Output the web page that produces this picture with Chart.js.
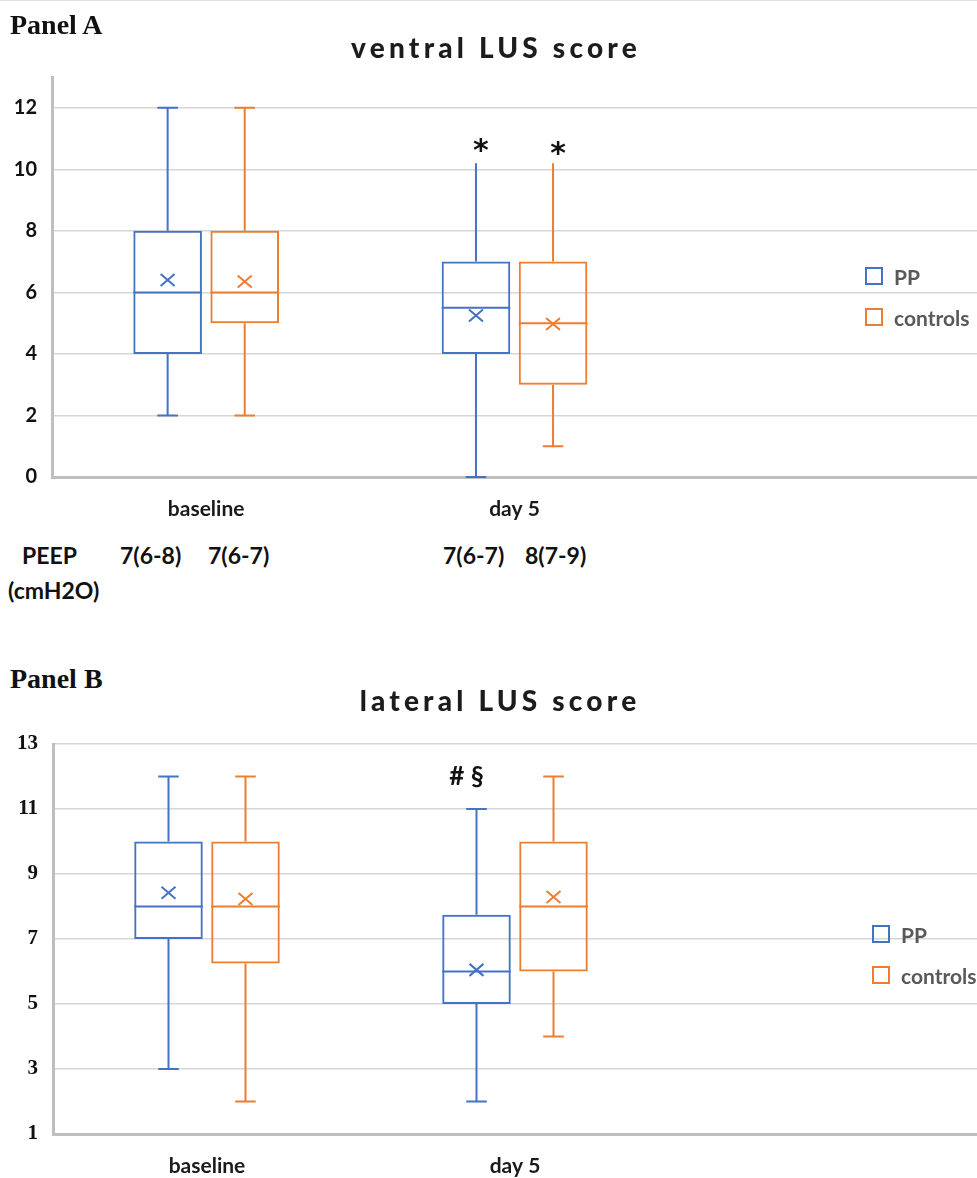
<!DOCTYPE html>
<html>
<head>
<meta charset="utf-8">
<script src="https://cdn.jsdelivr.net/npm/chart.js@4.4.1/dist/chart.umd.min.js"></script>
<style>
  html, body { margin: 0; padding: 0; background: #fff; }
  #page { position: relative; width: 977px; height: 1178px; overflow: hidden; background: #fff; }
  .topline { position: absolute; left: 0; top: 0; width: 977px; height: 1px; background: #e2e2e2; }
  .abs { position: absolute; white-space: nowrap; z-index: 2; }
  .panel { font-family: "Liberation Serif", "Times New Roman", serif; font-weight: bold; font-size: 28px; line-height: 28px; color: #111; }
  .title { font-family: Lato, sans-serif; font-weight: 900; font-size: 28px; line-height: 30px; letter-spacing: 4.2px; color: #1c1c1c; transform: translateX(-50%); }
  .peep { font-family: Lato, sans-serif; font-weight: bold; font-size: 23px; line-height: 24px; color: #111; }
  .legend { position: absolute; z-index: 2; }
  .legend-item { display: flex; align-items: center; height: 18px; margin-bottom: 23px; font-family: Lato, sans-serif; font-weight: bold; font-size: 21px; color: #595959; white-space: nowrap; }
  .swatch { box-sizing: border-box; width: 18px; height: 18px; border: 2px solid; margin-right: 11px; background: transparent; }
  .chartbox { position: absolute; left: 0; width: 977px; z-index: 1; }
</style>
</head>
<body>
<div id="page">
  <div class="topline"></div>

  <div class="chartbox" style="top:0;height:530px;"><canvas id="ventral" width="977" height="530"></canvas></div>
  <div class="abs panel" style="left:10px;top:11px;">Panel A</div>
  <div class="abs title" style="left:496px;top:32px;">ventral LUS score</div>
  <div class="legend" id="legendVentral" style="left:865px;top:267px;"></div>

  <div class="abs peep" style="left:22px;top:543px;">PEEP</div>
  <div class="abs peep" style="left:8px;top:578px;">(cmH2O)</div>
  <div class="abs peep" id="peepB0" style="left:120px;top:543px;"></div>
  <div class="abs peep" id="peepB1" style="left:208px;top:543px;"></div>
  <div class="abs peep" id="peepD0" style="left:443px;top:543px;"></div>
  <div class="abs peep" id="peepD1" style="left:525px;top:543px;"></div>

  <div class="chartbox" style="top:700px;height:478px;"><canvas id="lateral" width="977" height="478"></canvas></div>
  <div class="abs panel" style="left:10px;top:665px;">Panel B</div>
  <div class="abs title" style="left:500px;top:685px;">lateral LUS score</div>
  <div class="legend" id="legendLateral" style="left:872px;top:925px;"></div>
</div>

<script>
// time points on the x axis (third slot left empty, as in the layout of the figure)
const categories = ['baseline', 'day 5', ''];
const seriesNames = ['PP', 'controls'];
const seriesColors = ['#4472C4', '#ED7D31'];

// five-number summaries per time point: [min, q1, median, q3, max]
const ventralPP = [[2, 4, 6, 8, 12], [0, 4, 5.5, 7, 10.2]];
const ventralControls = [[2, 5, 6, 8, 12], [1, 3, 5, 7, 10.2]];
const ventralPPMean = [6.4, 5.25];
const ventralControlsMean = [6.35, 4.97];
const ventralTicks = [0, 2, 4, 6, 8, 10, 12];

const lateralPP = [[3, 7, 8, 10, 12], [2, 5, 6, 7.75, 11]];
const lateralControls = [[2, 6.25, 8, 10, 12], [4, 6, 8, 10, 12]];
const lateralPPMean = [8.42, 6.05];
const lateralControlsMean = [8.23, 8.29];
const lateralTicks = [1, 3, 5, 7, 9, 11, 13];

// PEEP (cmH2O), median (IQR), per group
const peepBaseline = ['7(6-8)', '7(6-7)'];
const peepDay5 = ['7(6-7)', '8(7-9)'];

// whiskers, median line, mean marker and significance marks on top of the IQR bars
const boxPlot = {
  id: 'boxPlot',
  afterDatasetsDraw(chart, args, opts) {
    const ctx = chart.ctx;
    const y = chart.scales.y;
    const py = v => y.getPixelForValue(v);
    chart.data.datasets.forEach((ds, di) => {
      const meta = chart.getDatasetMeta(di);
      ds.stats.forEach((s, i) => {
        const bar = meta.data[i];
        if (!bar) return;
        const { x, width } = bar.getProps(['x', 'width'], true);
        const cap = width * 0.3;
        ctx.save();
        ctx.strokeStyle = ds.borderColor;
        ctx.lineWidth = 2;
        ctx.beginPath();
        ctx.moveTo(x, py(s[3])); ctx.lineTo(x, py(s[4]));
        ctx.moveTo(x, py(s[1])); ctx.lineTo(x, py(s[0]));
        if (ds.topCaps[i]) { ctx.moveTo(x - cap / 2, py(s[4])); ctx.lineTo(x + cap / 2, py(s[4])); }
        ctx.moveTo(x - cap / 2, py(s[0])); ctx.lineTo(x + cap / 2, py(s[0]));
        ctx.moveTo(x - width / 2, py(s[2])); ctx.lineTo(x + width / 2, py(s[2]));
        ctx.stroke();
        const my = py(ds.means[i]);
        ctx.beginPath();
        ctx.moveTo(x - 7, my - 6); ctx.lineTo(x + 7, my + 6);
        ctx.moveTo(x + 7, my - 6); ctx.lineTo(x - 7, my + 6);
        ctx.stroke();
        ctx.restore();
      });
    });
    // significance marks, centred on their value
    (opts.marks || []).forEach(m => {
      const bar = chart.getDatasetMeta(m.dataset).data[m.index];
      ctx.save();
      ctx.fillStyle = '#111';
      ctx.font = m.font;
      ctx.textAlign = 'center';
      ctx.textBaseline = 'alphabetic';
      const mt = ctx.measureText(m.text);
      const yc = py(m.value) + (mt.actualBoundingBoxAscent - mt.actualBoundingBoxDescent) / 2;
      ctx.fillText(m.text, bar.x + (m.dx || 0), yc);
      ctx.restore();
    });
  }
};

function makeChart(id, cfg) {
  const chart = new Chart(document.getElementById(id), {
    type: 'bar',
    data: {
      labels: categories,
      datasets: cfg.series.map((s, k) => ({
        label: seriesNames[k],
        data: s.stats.map(v => [v[1], v[3]]),
        stats: s.stats,
        means: s.mean,
        topCaps: s.topCaps,
        borderColor: seriesColors[k],
        backgroundColor: 'rgba(0,0,0,0)',
        borderWidth: 2,
        borderSkipped: false,
        categoryPercentage: 0.5,
        barPercentage: 0.89
      }))
    },
    options: {
      responsive: false,
      animation: false,
      events: [],
      layout: { padding: { top: cfg.top, left: 0, right: 0, bottom: 0 } },
      plugins: {
        legend: { display: false },
        tooltip: { enabled: false },
        boxPlot: { marks: cfg.marks }
      },
      scales: {
        x: {
          grid: { display: false, drawTicks: false },
          border: { display: true, color: '#bfbfbf', width: 3 },
          ticks: { color: '#1a1a1a', font: { family: 'Lato', weight: 'bold', size: 21 }, padding: cfg.xPad, maxRotation: 0 },
          afterFit: s => { s.height = cfg.xHeight; }
        },
        y: {
          min: cfg.min,
          max: cfg.max,
          grid: { color: '#d6d6d6', lineWidth: 1.5, drawTicks: false },
          border: { display: true, color: '#bfbfbf', width: 3 },
          ticks: { color: '#111', font: cfg.tickFont, padding: cfg.yPad },
          afterBuildTicks: s => { s.ticks = cfg.ticks.map(v => ({ value: v })); },
          afterFit: s => { s.width = cfg.yWidth; }
        }
      }
    },
    plugins: [boxPlot]
  });
  return chart;
}

function buildLegend(chart, elId) {
  const el = document.getElementById(elId);
  chart.data.datasets.forEach(ds => {
    const item = document.createElement('div');
    item.className = 'legend-item';
    const sw = document.createElement('span');
    sw.className = 'swatch';
    sw.style.borderColor = ds.borderColor;
    const tx = document.createElement('span');
    tx.textContent = ds.label;
    item.appendChild(sw);
    item.appendChild(tx);
    el.appendChild(item);
  });
}

const ventral = makeChart('ventral', {
  series: [
    { stats: ventralPP, mean: ventralPPMean, topCaps: [true, false] },
    { stats: ventralControls, mean: ventralControlsMean, topCaps: [true, false] }
  ],
  min: 0, max: 13, ticks: ventralTicks,
  top: 77, xHeight: 53, yWidth: 52, xPad: 20, yPad: 15,
  tickFont: { family: 'Lato', weight: 'bold', size: 20 },
  marks: [
    { dataset: 0, index: 1, value: 10.76, text: '*', font: 'bold 30px "DejaVu Sans"', dx: 5 },
    { dataset: 1, index: 1, value: 10.69, text: '*', font: 'bold 30px "DejaVu Sans"', dx: 5 }
  ]
});

const lateral = makeChart('lateral', {
  series: [
    { stats: lateralPP, mean: lateralPPMean, topCaps: [true, true] },
    { stats: lateralControls, mean: lateralControlsMean, topCaps: [true, true] }
  ],
  min: 1, max: 13, ticks: lateralTicks,
  top: 44, xHeight: 44, yWidth: 53, xPad: 20, yPad: 15,
  tickFont: { family: 'Liberation Serif', weight: 'bold', size: 21 },
  marks: [
    { dataset: 0, index: 1, value: 12.0, text: '# §', font: 'bold 26px Lato', dx: -10 }
  ]
});

buildLegend(ventral, 'legendVentral');
buildLegend(lateral, 'legendLateral');

document.getElementById('peepB0').textContent = peepBaseline[0];
document.getElementById('peepB1').textContent = peepBaseline[1];
document.getElementById('peepD0').textContent = peepDay5[0];
document.getElementById('peepD1').textContent = peepDay5[1];
</script>
</body>
</html>
